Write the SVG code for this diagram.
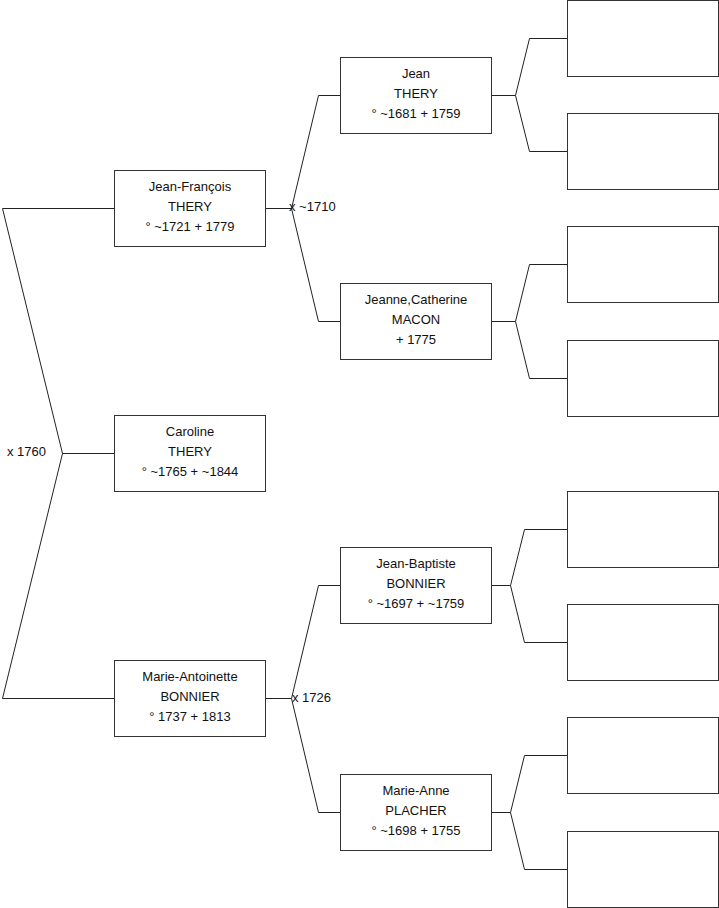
<svg xmlns="http://www.w3.org/2000/svg" width="719" height="908" viewBox="0 0 719 908">
<style>
.box{fill:#fff;stroke:#333;stroke-width:1}
.ln{fill:none;stroke:#222;stroke-width:1}
text{font-family:"Liberation Sans",Arial,sans-serif;font-size:13px;fill:#111}
.c{text-anchor:middle}
</style>
<rect width="719" height="908" fill="#fff"/>
<g id="connectors">
<path class="ln" d="M2.5,208.5 H114.5 M2.5,208.5 L62.5,453.5 L2.5,698.5 H114.5 M62.5,453.5 H114.5"/>
<path class="ln" d="M265.5,208.5 H291.5 L318.5,95.5 H340.5 M291.5,208.5 L318.5,321.5 H340.5"/>
<path class="ln" d="M265.5,698.5 H291.5 L318.5,585.5 H340.5 M291.5,698.5 L318.5,812.5 H340.5"/>
<path class="ln" d="M491.5,95.5 H515.5 L529.5,38.5 H567.5 M515.5,95.5 L529.5,151.5 H567.5"/>
<path class="ln" d="M491.5,321.5 H515.5 L529.5,264.5 H567.5 M515.5,321.5 L529.5,378.5 H567.5"/>
<path class="ln" d="M491.5,585.5 H510.5 L524.5,529.5 H567.5 M510.5,585.5 L524.5,642.5 H567.5"/>
<path class="ln" d="M491.5,812.5 H510.5 L524.5,755.5 H567.5 M510.5,812.5 L524.5,869.5 H567.5"/>
<text x="7" y="456">x 1760</text>
<text x="289" y="211">x ~1710</text>
<text x="292" y="702">x 1726</text>
</g>
<g id="jean-francois">
<rect class="box" x="114.5" y="170.5" width="151" height="76"/>
<text class="c" x="190" y="191">Jean-François</text>
<text class="c" x="190" y="211">THERY</text>
<text class="c" x="190" y="231">° ~1721 + 1779</text>
</g>
<g id="caroline">
<rect class="box" x="114.5" y="415.5" width="151" height="76"/>
<text class="c" x="190" y="436">Caroline</text>
<text class="c" x="190" y="456">THERY</text>
<text class="c" x="190" y="476">° ~1765 + ~1844</text>
</g>
<g id="marie-antoinette">
<rect class="box" x="114.5" y="660.5" width="151" height="76"/>
<text class="c" x="190" y="681">Marie-Antoinette</text>
<text class="c" x="190" y="701">BONNIER</text>
<text class="c" x="190" y="721">° 1737 + 1813</text>
</g>
<g id="jean">
<rect class="box" x="340.5" y="57.5" width="151" height="76"/>
<text class="c" x="416" y="78">Jean</text>
<text class="c" x="416" y="98">THERY</text>
<text class="c" x="416" y="118">° ~1681 + 1759</text>
</g>
<g id="jeanne-catherine">
<rect class="box" x="340.5" y="283.5" width="151" height="76"/>
<text class="c" x="416" y="304">Jeanne,Catherine</text>
<text class="c" x="416" y="324">MACON</text>
<text class="c" x="416" y="344">+ 1775</text>
</g>
<g id="jean-baptiste">
<rect class="box" x="340.5" y="547.5" width="151" height="76"/>
<text class="c" x="416" y="568">Jean-Baptiste</text>
<text class="c" x="416" y="588">BONNIER</text>
<text class="c" x="416" y="608">° ~1697 + ~1759</text>
</g>
<g id="marie-anne">
<rect class="box" x="340.5" y="774.5" width="151" height="76"/>
<text class="c" x="416" y="795">Marie-Anne</text>
<text class="c" x="416" y="815">PLACHER</text>
<text class="c" x="416" y="835">° ~1698 + 1755</text>
</g>
<g id="empty-1"><rect class="box" x="567.5" y="0.5" width="151" height="76"/></g>
<g id="empty-2"><rect class="box" x="567.5" y="113.5" width="151" height="76"/></g>
<g id="empty-3"><rect class="box" x="567.5" y="226.5" width="151" height="76"/></g>
<g id="empty-4"><rect class="box" x="567.5" y="340.5" width="151" height="76"/></g>
<g id="empty-5"><rect class="box" x="567.5" y="491.5" width="151" height="76"/></g>
<g id="empty-6"><rect class="box" x="567.5" y="604.5" width="151" height="76"/></g>
<g id="empty-7"><rect class="box" x="567.5" y="717.5" width="151" height="76"/></g>
<g id="empty-8"><rect class="box" x="567.5" y="831.5" width="151" height="76"/></g>
</svg>
